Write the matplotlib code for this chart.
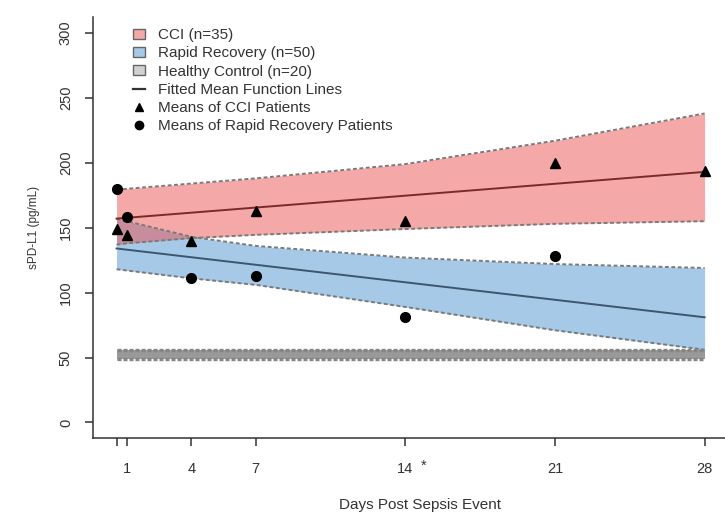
import numpy as np
import matplotlib.pyplot as plt
from matplotlib.patches import Patch
from matplotlib.lines import Line2D

plt.rcParams["font.family"] = ["Liberation Sans", "DejaVu Sans"]

# days at which means were measured (0.5 = first draw, unlabelled tick)
days = [0.5, 1, 4, 7, 14, 21, 28]
tick_labels = ["", "1", "4", "7", "14", "21", "28"]

# group means
cci_means = [149, 144.5, 140, 163, 155, 200, 194]
rr_days = [0.5, 1, 4, 7, 14, 21]
rr_means = [180, 158, 111, 113, 81, 128]

# fitted mean lines (end points)
fit_days = [0.5, 28]
cci_fit = [157, 193]
rr_fit = [134, 81]

# confidence bands
cci_upper = [179, 180, 184, 188, 199, 217, 238]
cci_lower = [137, 138, 142, 144.5, 149, 153, 155]
rr_upper = [157, 155, 143, 136, 127, 122, 119]
rr_lower = [118, 117, 111, 106, 89, 71, 56]

# healthy control range
hc_days = [0.5, 28]
hc_upper = [56, 56]
hc_lower = [49, 49]

red_fill = (0.92, 0.32, 0.32, 0.5)
blue_fill = (0.30, 0.58, 0.82, 0.5)
gray_fill = (0.60, 0.60, 0.60, 1.0)
edge = "#7a7a7a"
ink = "#333333"

fig = plt.figure(figsize=(7.25, 5.18), dpi=100)
ax = fig.add_axes([0.1283, 0.1544, 0.876, 0.812])

# bands
ax.fill_between(days, rr_lower, rr_upper, color=blue_fill, lw=0)
ax.fill_between(days, cci_lower, cci_upper, color=red_fill, lw=0)
ax.fill_between(hc_days, hc_lower, hc_upper, color=gray_fill, lw=0)

for ys in (cci_upper, cci_lower, rr_upper, rr_lower):
    ax.plot(days, ys, color=edge, lw=1.4, ls=(0, (2, 1.3)))
for ys in (hc_upper, hc_lower):
    ax.plot(hc_days, ys, color="#858585", lw=2.4, ls=(0, (1.2, 0.6)))

# fitted lines
ax.plot(fit_days, cci_fit, color="#7a2a2a", lw=1.4)
ax.plot(fit_days, rr_fit, color="#3d5670", lw=1.4)

# means
ax.plot(days, cci_means, "^", color="black", ms=7, ls="none")
ax.plot(rr_days, rr_means, "o", color="black", ms=7, ls="none")

ax.set_xlim(-0.6, 29.1)
ax.set_ylim(-12, 312)
ax.set_xticks(days)
ax.set_xticklabels(tick_labels)
ax.set_yticks([0, 50, 100, 150, 200, 250, 300])
ax.annotate("*", xy=(14, 0), xycoords=("data", "axes fraction"),
            xytext=(13, -20), textcoords="offset points", ha="center",
            va="center", fontsize=10.5, color=ink)

for s in ("top", "right"):
    ax.spines[s].set_visible(False)
for s in ("left", "bottom"):
    ax.spines[s].set_color(ink)
    ax.spines[s].set_linewidth(1.1)

ax.tick_params(axis="both", direction="out", length=5.5, width=1.1,
               color=ink, labelsize=10.5, labelcolor=ink)
ax.tick_params(axis="x", pad=12)
ax.tick_params(axis="y", labelrotation=90, pad=9)
for lab in ax.get_yticklabels():
    lab.set_va("center")

ax.set_xlabel("Days Post Sepsis Event", fontsize=11, color=ink)
ax.xaxis.set_label_coords(0.515, -0.143)
ax.set_ylabel("sPD-L1 (pg/mL)", fontsize=8.5, color=ink)
ax.yaxis.set_label_coords(-0.083, 0.5)

handles = [
    Patch(facecolor=red_fill, edgecolor="#666666", label="CCI (n=35)"),
    Patch(facecolor=blue_fill, edgecolor="#666666", label="Rapid Recovery (n=50)"),
    Patch(facecolor=(0.82, 0.82, 0.82), edgecolor="#666666", label="Healthy Control (n=20)"),
    Line2D([], [], color=ink, lw=1.6, label="Fitted Mean Function Lines"),
    Line2D([], [], marker="^", color="black", ls="none", ms=6, label="Means of CCI Patients"),
    Line2D([], [], marker="o", color="black", ls="none", ms=6,
           label="Means of Rapid Recovery Patients"),
]
leg = ax.legend(handles=handles, loc="upper left", bbox_to_anchor=(0.063, 0.974),
                frameon=False, fontsize=11, handlelength=0.8, handleheight=0.6,
                handletextpad=0.85, labelspacing=0.27, borderaxespad=0, borderpad=0)
for t in leg.get_texts():
    t.set_color(ink)

fig.savefig("out.png", dpi=100)
